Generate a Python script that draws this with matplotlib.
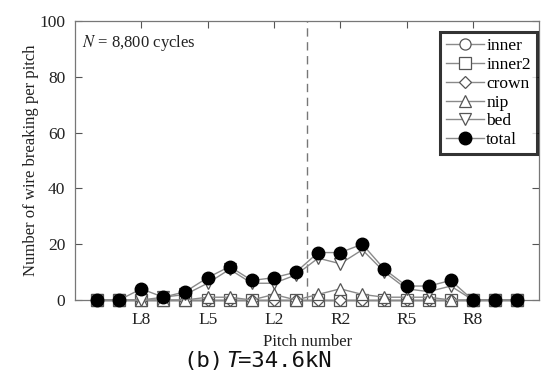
import numpy as np
import matplotlib
matplotlib.use('Agg')
import matplotlib.pyplot as plt

plt.rcParams['font.family'] = ['Liberation Serif', 'DejaVu Serif']
plt.rcParams['mathtext.fontset'] = 'stix'

# pitch positions L10..L1, R1..R10
pitch = np.arange(1, 21)
tick_pos = [3, 6, 9, 12, 15, 18]
tick_lab = ['L8', 'L5', 'L2', 'R2', 'R5', 'R8']

inner  = [0]*20
inner2 = [0]*20
crown  = [0]*20
nip    = [0, 0, 0, 0, 0, 1, 1, 0, 2, 0, 2, 4, 2, 1, 1, 1, 0, 0, 0, 0]
bed    = [0, 0, 0, 1, 2, 6, 11, 6, 6, 9, 15, 13, 18, 10, 4, 3, 5, 0, 0, 0]
total  = [0, 0, 4, 1, 3, 8, 12, 7, 8, 10, 17, 17, 20, 11, 5, 5, 7, 0, 0, 0]

fig = plt.figure(figsize=(5.43, 3.81), dpi=100)
ax = fig.add_axes([0.138, 0.2126, 0.855, 0.7323])

lc = '#8a8a8a'
ec = '#555555'
series = [('inner', inner, 'o'), ('inner2', inner2, 's'), ('crown', crown, 'D'),
          ('nip', nip, '^'), ('bed', bed, 'v')]
for name, vals, m in series:
    ms = 6 if m == 'D' else 8
    ax.plot(pitch, vals, marker=m, color=lc, lw=1, mfc='white', mec=ec,
            mew=0.9, ms=ms, label=name, clip_on=False, zorder=3)
ax.plot(pitch, total, marker='o', color=lc, lw=1, mfc='black', mec='black',
        ms=9, label='total', clip_on=False, zorder=4)

ax.axvline(10.5, color='#777777', ls=(0, (6, 4)), lw=1)

ax.set_xlim(0, 21)
ax.set_ylim(0, 100)
ax.set_xticks(tick_pos)
ax.set_xticklabels(tick_lab)
ax.set_yticks([0, 20, 40, 60, 80, 100])
ax.tick_params(direction='in', top=True, right=True, labelsize=12.5,
               colors='#555555', labelcolor='#222222', length=5)
ax.tick_params(axis='x', pad=9)
ax.tick_params(axis='y', pad=7)
for s in ax.spines.values():
    s.set_color('#777777')
    s.set_linewidth(0.9)

ax.set_xlabel('Pitch number', fontsize=12, color='#222222', labelpad=4)
ax.set_ylabel('Number of wire breaking per pitch', fontsize=12, color='#222222', labelpad=0)
ax.text(0.015, 0.905, r'$N$ = 8,800 cycles', transform=ax.transAxes, fontsize=12,
        color='#222222')

leg = ax.legend(loc='upper right', bbox_to_anchor=(0.995, 0.96), fontsize=12.5,
                frameon=True, fancybox=False, handlelength=2.2, handletextpad=0.1,
                borderpad=0.35, labelspacing=0.15, borderaxespad=0)
leg.get_frame().set_edgecolor('black')
leg.get_frame().set_linewidth(2.2)

tkw = dict(fontsize=16, family='DejaVu Sans Mono', ha='left', va='baseline', color='#111111')
fig.text(183 / 543, 0.038, '(b)', **tkw)
fig.text(226 / 543, 0.038, 'T', style='italic', **tkw)
fig.text(238 / 543, 0.038, '=34.6kN', **tkw)

fig.savefig('out.png', dpi=100)
